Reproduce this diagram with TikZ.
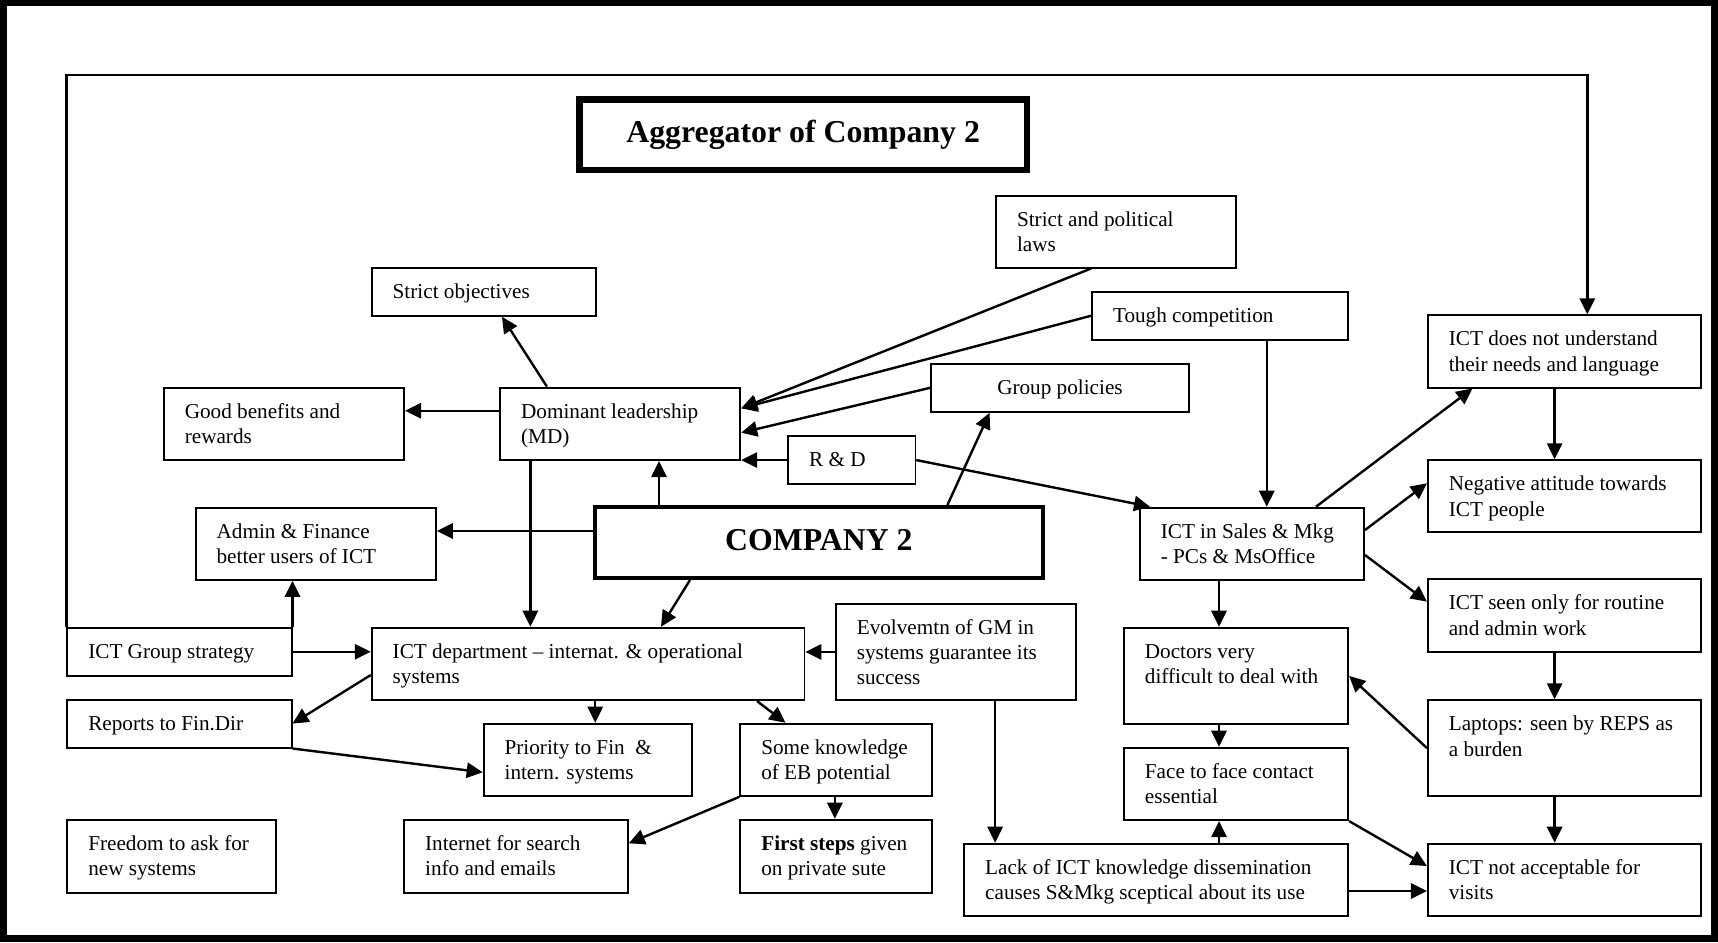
\documentclass[tikz,border=0pt]{standalone}
\usepackage{fontspec}
\setmainfont{Liberation Serif}
\usetikzlibrary{arrows.meta}

\tikzset{
  cell/.style={draw, line width=0.9pt, inner sep=0pt, font=\fontsize{10.6}{12.7}\selectfont},
  headbox/.style={draw, inner sep=0pt, align=center, font=\fontsize{15.9}{19}\selectfont\bfseries},
  link/.style={line width=1.2pt, -{Triangle[length=8pt,width=7.6pt]}},
}

% \cbox[alignment]{name}{x1}{y1}{x2}{y2}{text}: a framed cell, text set from the top
\newcommand\cbox[7][\raggedright\leftskip=10.5pt]{%
  \pgfmathsetmacro\bw{(#5-#3)/2}%
  \pgfmathsetmacro\bh{(#6-#4)/2}%
  \node[cell, anchor=north west] (#2) at (#3,#4)
    {\parbox[t][\bh pt][t]{\bw pt}{#1\vspace*{6.36pt}\strut #7}};%
}

\begin{document}
\begin{tikzpicture}[x=0.5pt, y=-0.5pt]
\useasboundingbox (0,0) rectangle (1718,942);
\fill[black] (0,0) rectangle (1718,942);
\fill[white] (6.5,6) rectangle (1711,935);

% headings
\node[headbox, line width=3.3pt, minimum width=223.85pt, minimum height=35.4pt]
  (agg) at (803.15,134.6) {\strut Aggregator of Company 2};
\node[headbox, line width=2pt, minimum width=223.6pt, minimum height=35.5pt]
  (comp) at (818.9,542.5) {\strut COMPANY 2};

% left and centre cells
\cbox{stobj}{370.8}{266.7}{595.2}{315}{Strict objectives}
\cbox{good}{162.9}{386.7}{403.2}{459.3}{Good benefits and\\rewards}
\cbox{dom}{499.2}{386.7}{739.4}{459.3}{Dominant leadership\\(MD)}
\cbox{rd}{787.2}{435}{914.5}{483.3}{R \& D}
\cbox{admin}{194.7}{506.7}{435}{579}{Admin \& Finance\\better users of ICT}
\cbox{grp}{66.4}{626.7}{290.7}{675}{ICT Group strategy}
\cbox{dept}{370.8}{626.7}{803.6}{699.3}{ICT department -- internat. \& operational\\systems}
\cbox{rep}{66.4}{698.7}{290.7}{746.7}{Reports to Fin.Dir}
\cbox{prio}{482.7}{722.7}{691.2}{795}{Priority to Fin\ \ \&\\intern. systems}
\cbox{some}{739.4}{722.7}{931}{795}{Some knowledge\\of EB potential}
\cbox{free}{66.4}{818.7}{275.4}{891.7}{Freedom to ask for\\new systems}
\cbox{inet}{403.2}{818.7}{627}{891.7}{Internet for search\\info and emails}
\cbox{first}{739.4}{818.7}{931}{891.7}{\textbf{First steps} given\\on private sute}
\cbox{evol}{834.9}{602.7}{1075.2}{699.3}{Evolvemtn of GM in\\systems guarantee its\\success}

% upper right and right cells
\cbox{spl}{995.1}{195}{1235.4}{266.7}{Strict and political\\laws}
\cbox{tough}{1091.1}{290.7}{1347.3}{339}{Tough competition}
\cbox[\centering]{gpol}{930.4}{362.7}{1187.7}{411}{Group policies}
\cbox{sales}{1138.9}{506.7}{1363.2}{579}{ICT in Sales \& Mkg\\- PCs \& MsOffice}
\cbox{doc}{1123}{626.7}{1347.3}{723.3}{Doctors very\\difficult to deal with}
\cbox{face}{1123}{746.7}{1347.3}{819.3}{Face to face contact\\essential}
\cbox{lack}{963.3}{842.7}{1347.3}{915}{Lack of ICT knowledge dissemination\\causes S\&Mkg sceptical about its use}
\cbox{under}{1426.9}{314.3}{1700}{386.7}{ICT does not understand\\their needs and language}
\cbox{neg}{1426.9}{459.3}{1700}{530.7}{Negative attitude towards\\ICT people}
\cbox{seen}{1426.9}{578.3}{1700}{650.7}{ICT seen only for routine\\and admin work}
\cbox{lap}{1426.9}{699.3}{1700}{795}{Laptops: seen by REPS as\\a burden}
\cbox{notacc}{1426.9}{842.7}{1700}{915}{ICT not acceptable for\\visits}

% connectors around the leadership cell
\draw[link] (dom.north -| 547,0) -- (stobj.south -| 502,0);
\draw[link] (dom.west |- 0,410.7) -- (good.east |- 0,410.7);
\draw[link] (spl.south -| 1091.1,0) -- (dom.east |- 0,408.3);
\draw[link] (tough.west) -- (dom.east |- 0,408.3);
\draw[link] (gpol.west) -- (dom.east |- 0,432.7);
\draw[link] (rd.west) -- (rd.west -| dom.east);
\draw[link] (rd.east) -- (sales.north -| 1150,0);

% connectors leaving the company cell
\draw[link] (comp.north -| 947.4,0) -- (gpol.south -| 989.6,0);
\draw[link] (comp.north -| 659,0) -- (dom.south -| 659,0);
\draw[link] (comp.west |- 0,531) -- (admin.east |- 0,531);
\draw[link] (comp.south -| 690,0) -- (dept.north -| 661,0);
\draw[link] (dom.south -| 530.4,0) -- (dept.north -| 530.4,0);

% group strategy and ICT department
\draw[link] (grp.north east) -- (admin.south -| grp.north east);
\draw[link] (grp.east) -- (grp.east -| dept.west);
\coordinate (turn) at (1587.3,75);
\draw[link] (grp.north west) |- (turn) -- (turn |- under.north);
\draw[link] (evol.west) -- (evol.west -| dept.east);
\draw[link] (dept.west |- 0,675) -- (rep.east);
\draw[link] (rep.south east) -- (prio.west |- 0,772.3);
\draw[link] (dept.south -| 595.2,0) -- (prio.north -| 595.2,0);
\draw[link] (dept.south -| 757,0) -- (some.north -| 785.5,0);
\draw[link] (some.south west) -- (inet.east |- 0,843.3);
\draw[link] (some.south -| 834.9,0) -- (first.north -| 834.9,0);
\draw[link] (evol.south -| 995.1,0) -- (lack.north -| 995.1,0);

% sales and marketing chain
\draw[link] (tough.south -| 1266.7,0) -- (sales.north -| 1266.7,0);
\draw[link] (sales.north -| 1316,0) -- (under.south -| 1472.4,0);
\draw[link] (sales.east |- 0,530) -- (neg.west |- 0,483.3);
\draw[link] (sales.east |- 0,555) -- (seen.west |- 0,601.7);
\draw[link] (under.south -| 1554.6,0) -- (neg.north -| 1554.6,0);
\draw[link] (seen.south -| 1554.6,0) -- (lap.north -| 1554.6,0);
\draw[link] (lap.west) -- (doc.east);
\draw[link] (sales.south -| 1219,0) -- (doc.north -| 1219,0);
\draw[link] (doc.south -| 1219,0) -- (face.north -| 1219,0);
\draw[link] (lack.north -| 1219,0) -- (face.south -| 1219,0);
\draw[link] (lack.east |- 0,891) -- (notacc.west |- 0,891);
\draw[link] (face.south east) -- (notacc.west |- 0,866);
\draw[link] (lap.south -| 1554.6,0) -- (notacc.north -| 1554.6,0);
\end{tikzpicture}
\end{document}
